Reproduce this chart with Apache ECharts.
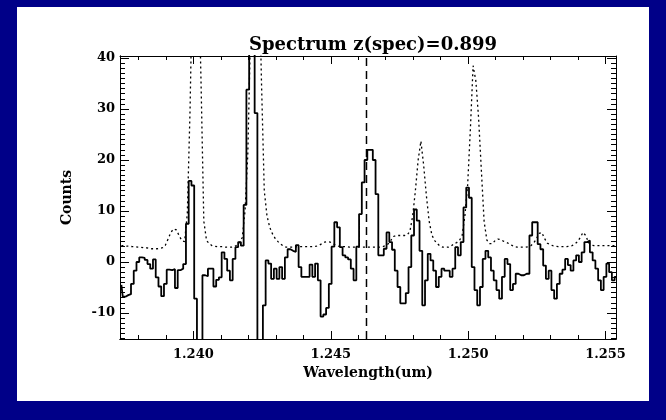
<!DOCTYPE html>
<html>
<head>
<meta charset="utf-8">
<script src="https://cdn.jsdelivr.net/npm/echarts@6/dist/echarts.min.js"></script>
<style>
  html, body { margin: 0; padding: 0; width: 666px; height: 420px; background: #000088; overflow: hidden; }
  #chart { position: absolute; left: 17px; top: 7px; width: 632px; height: 394px; background: #fff; }
</style>
</head>
<body>
<div id="chart"></div>
<script>
// spectrum binning (linear dispersion)
const lambdaStart = 1.23738;
const binWidth = 0.0001;

// object counts per bin (histogram)
const counts = [
  -4.5, -6.8, -6.5, -6.3, -4.3, -1.7, 0.0, 0.9, 0.8, 0.4,
  -0.4, -1.3, 0.5, -3.0, -4.8, -6.7, -4.3, -1.5, -1.6, -1.4,
  -5.1, -1.6, -1.3, -0.4, 7.5, 15.9, 15.0, -7.2, -25, -25,
  -2.6, -2.8, -1.3, -1.3, -4.8, -3.5, -3.0, 1.9, 0.6, -1.7,
  -3.6, 0.6, 2.9, 3.9, 3.2, 11.2, 33.8, 45, 45, 29.2,
  -25, -25, -8.5, 0.3, -0.3, -3.3, -1.3, -3.3, -1.0, -3.3,
  0.9, 2.5, 2.2, 2.0, 3.3, -1.0, -2.9, -2.9, -2.9, -0.5,
  -2.9, -0.3, -3.6, -10.7, -10.3, -9.0, -4.3, 3.0, 7.8, 6.8,
  2.9, 1.3, 0.9, 0.5, -1.3, -3.6, 3.0, 9.4, 15.6, 20.0,
  22.0, 22.0, 20.0, 13.3, 1.3, 1.3, 2.6, 5.8, 3.9, 2.4,
  -1.7, -4.9, -8.1, -8.1, -6.1, -1.0, 5.2, 10.3, 8.1, 2.2,
  -8.5, -3.6, 1.6, 0.3, -1.7, -4.9, -2.9, -1.3, -1.7, -1.7,
  -2.9, -1.3, 2.9, 1.3, 3.9, 10.7, 14.6, 12.6, -1.0, -5.5,
  -8.5, -4.9, 0.6, 2.2, 0.9, -1.7, -3.6, -5.5, -7.2, -2.9,
  0.6, -0.4, -5.5, -4.3, -2.3, -2.6, -2.6, -2.3, -2.3, 5.2,
  7.8, 7.8, 3.5, 2.5, -0.7, -3.3, -1.7, -5.5, -7.2, -4.3,
  -2.3, -1.5, 0.6, -0.6, -1.7, 0.3, 1.3, 0.0, 1.9, 3.9,
  4.2, 1.9, 0.3, -1.3, -3.6, -5.5, -2.9, -0.3, -2.0, -3.6, -2.9
];

// sky spectrum (dotted)
const sky = [
  3.2, 3.2, 3.1, 3.1, 3.0, 3.0, 2.9, 2.9, 2.8, 2.8,
  2.7, 2.6, 2.6, 2.6, 2.7, 2.8, 3.3, 4.5, 5.8, 6.5,
  6.3, 5.2, 4.2, 4.0, 9.5, 30, 60, 70, 60, 35,
  8.0, 4.2, 3.6, 3.2, 3.1, 3.0, 3.0, 3.0, 2.9, 2.9,
  2.9, 3.0, 3.3, 3.8, 4.8, 10, 21, 45, 80, 70,
  60, 35, 14, 9.0, 6.8, 5.5, 4.6, 4.0, 3.5, 3.1,
  2.9, 2.9, 2.9, 2.9, 3.0, 3.0, 3.0, 3.0, 3.0, 3.0,
  3.0, 3.1, 3.3, 3.6, 3.9, 4.0, 3.9, 3.6, 3.3, 3.1,
  3.0, 3.0, 3.0, 2.9, 2.9, 2.9, 2.9, 2.9, 2.9, 2.9,
  2.9, 2.9, 2.9, 2.9, 2.9, 3.0, 3.2, 3.5, 4.2, 5.0,
  5.2, 5.2, 5.2, 5.2, 5.3, 6.0, 9.0, 14, 20, 23.7,
  19, 13, 8.0, 5.3, 4.2, 3.6, 3.1, 2.9, 2.9, 2.9,
  3.1, 3.6, 3.8, 4.2, 5.2, 9.0, 15, 26, 38.5, 35.5,
  28.2, 18, 8.0, 4.3, 3.6, 3.6, 4.2, 4.5, 4.4, 4.1,
  3.9, 3.6, 3.3, 3.0, 2.9, 2.9, 2.9, 2.9, 3.0, 3.2,
  3.7, 4.5, 5.6, 5.8, 4.6, 3.7, 3.4, 3.2, 3.1, 3.0,
  3.0, 3.0, 3.0, 3.1, 3.2, 3.5, 4.0, 4.8, 5.8, 5.2,
  3.8, 3.3, 3.2, 3.2, 3.2, 3.2, 3.2, 3.2, 3.2, 3.2, 3.2
];

// expected line position for z=0.899
const lineCenter = 1.2463;

const xMajorTicks = [1.240, 1.245, 1.250, 1.255];
const xMinorTicks = [1.238, 1.239, 1.241, 1.242, 1.243, 1.244, 1.246, 1.247, 1.248, 1.249,
                     1.251, 1.252, 1.253, 1.254];
const yMajorTicks = [-10, 0, 10, 20, 30, 40];
const yMinorTicks = [-15, -14, -13, -12, -11, -9, -8, -7, -6, -5, -4, -3, -2, -1,
                     1, 2, 3, 4, 5, 6, 7, 8, 9, 11, 12, 13, 14, 15, 16, 17, 18, 19,
                     21, 22, 23, 24, 25, 26, 27, 28, 29, 31, 32, 33, 34, 35, 36, 37, 38, 39];

const X_MIN = 1.23733, X_MAX = 1.25538;
const Y_MIN = -15.1, Y_MAX = 40.4;
const FONT = '"DejaVu Serif", serif';

const wave = counts.map((_, i) => lambdaStart + i * binWidth);

function tickAxis(min, max, position, ticks, len, showLine) {
  return {
    type: 'value', min: min, max: max, position: position,
    axisLine: { show: showLine, onZero: false, lineStyle: { color: '#000', width: 1 } },
    axisTick: { show: true, inside: true, length: len, customValues: ticks, lineStyle: { color: '#000', width: 1 } },
    axisLabel: { show: false },
    splitLine: { show: false }
  };
}

const xLabelled = tickAxis(X_MIN, X_MAX, 'bottom', xMajorTicks, 8, true);
xLabelled.axisLabel = {
  show: true, customValues: xMajorTicks, margin: 9,
  color: '#000', fontFamily: FONT, fontWeight: 'bold', fontSize: 13,
  formatter: v => v.toFixed(3)
};
xLabelled.name = 'Wavelength(um)';
xLabelled.nameLocation = 'middle';
xLabelled.nameGap = 26;
xLabelled.nameTextStyle = { color: '#000', fontFamily: FONT, fontWeight: 'bold', fontSize: 14 };

const yLabelled = tickAxis(Y_MIN, Y_MAX, 'left', yMajorTicks, 9, true);
yLabelled.axisLabel = {
  show: true, customValues: yMajorTicks, margin: 5,
  color: '#000', fontFamily: FONT, fontWeight: 'bold', fontSize: 13
};
yLabelled.name = 'Counts';
yLabelled.nameLocation = 'middle';
yLabelled.nameGap = 46;
yLabelled.nameTextStyle = { color: '#000', fontFamily: FONT, fontWeight: 'bold', fontSize: 14 };

const chart = echarts.init(document.getElementById('chart'));
chart.setOption({
  animation: false,
  title: {
    text: 'Spectrum z(spec)=0.899',
    left: 351, top: 24, textAlign: 'center',
    textStyle: { color: '#000', fontFamily: FONT, fontWeight: 'bold', fontSize: 18 }
  },
  grid: { left: 103, top: 49, width: 496, height: 283 },
  xAxis: [
    tickAxis(X_MIN, X_MAX, 'bottom', xMinorTicks, 4, true),
    xLabelled,
    tickAxis(X_MIN, X_MAX, 'top', xMinorTicks, 4, true),
    tickAxis(X_MIN, X_MAX, 'top', xMajorTicks, 8, false)
  ],
  yAxis: [
    tickAxis(Y_MIN, Y_MAX, 'left', yMinorTicks, 5, true),
    yLabelled,
    tickAxis(Y_MIN, Y_MAX, 'right', yMinorTicks, 5, true),
    tickAxis(Y_MIN, Y_MAX, 'right', yMajorTicks, 9, false)
  ],
  series: [
    {
      type: 'line', name: 'sky', xAxisIndex: 0, yAxisIndex: 0,
      data: wave.map((w, i) => [w, sky[i]]),
      symbol: 'none', silent: true, clip: true,
      lineStyle: { color: '#000', width: 1.3, type: [2, 3] }
    },
    {
      type: 'line', name: 'spectrum', xAxisIndex: 0, yAxisIndex: 0,
      step: 'middle',
      data: wave.map((w, i) => [w, counts[i]]),
      symbol: 'none', silent: true, clip: true,
      lineStyle: { color: '#000', width: 1.8 }
    },
    {
      type: 'line', name: 'z line', xAxisIndex: 0, yAxisIndex: 0,
      data: [[lineCenter, Y_MIN], [lineCenter, Y_MAX]],
      symbol: 'none', silent: true,
      lineStyle: { color: '#000', width: 1.5, type: [8, 5] }
    }
  ]
});
</script>
</body>
</html>
